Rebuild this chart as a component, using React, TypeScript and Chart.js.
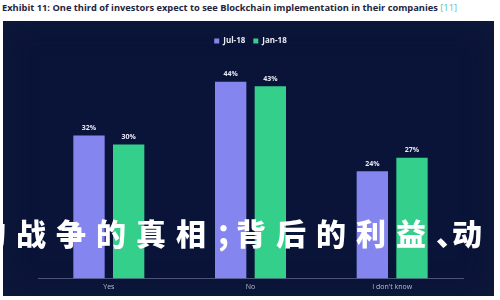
import React, { useEffect, useRef } from "react";
import { Chart, registerables } from "chart.js";

Chart.register(...registerables);

const categories = ["Yes", "No", "I don't know"];
const jul18 = [32, 44, 24];
const jan18 = [30, 43, 27];
const seriesNames = ["Jul-18", "Jan-18"];
const titleText = "Exhibit 11: One third of investors expect to see Blockchain implementation in their companies";
const titleRef = "[11]";
const overlayChars = ["的", "战", "争", "的", "真", "相", "；", "背", "后", "的", "利", "益", "、", "动"];

const valueLabels = {
  id: "valueLabels",
  afterDatasetsDraw(chart: any) {
    const ctx = chart.ctx;
    ctx.save();
    ctx.font = "bold 7px 'Open Sans', sans-serif";
    ctx.fillStyle = "#e8eaf5";
    ctx.textAlign = "center";
    ctx.textBaseline = "bottom";
    chart.data.datasets.forEach((ds: any, i: number) => {
      const meta = chart.getDatasetMeta(i);
      meta.data.forEach((bar: any, j: number) => {
        ctx.fillText(ds.data[j] + "%", bar.x, bar.y - 4);
      });
    });
    ctx.restore();
  },
};

export default function App() {
  const canvasRef = useRef<HTMLCanvasElement>(null);
  useEffect(() => {
    const chart = new Chart(canvasRef.current!, {
      type: "bar",
      data: {
        labels: categories,
        datasets: [
          { label: seriesNames[0], data: jul18, backgroundColor: "#8585ef", borderWidth: 0 },
          { label: seriesNames[1], data: jan18, backgroundColor: "#35cf8c", borderWidth: 0 },
        ],
      },
      options: {
        animation: false,
        responsive: false,
        maintainAspectRatio: false,
        layout: { padding: { left: 35, right: 31, top: 8, bottom: 1 } },
        plugins: {
          legend: {
            display: true,
            labels: {
              color: "#e8eaf5",
              font: { size: 8, weight: "bold", family: "'Open Sans', sans-serif" },
              boxWidth: 5,
              boxHeight: 5,
              padding: 8,
            },
          },
          tooltip: { enabled: false },
        },
        datasets: { bar: { categoryPercentage: 0.56, barPercentage: 0.79 } },
        scales: {
          x: {
            grid: { display: false, drawTicks: false, tickLength: 0 },
            border: { color: "#4a5578", width: 1 },
            ticks: { color: "#b8bdd0", font: { size: 7, family: "'Open Sans', sans-serif" }, padding: 4 },
          },
          y: { display: false, min: 0, max: 50 },
        },
      },
      plugins: [valueLabels],
    });
    return () => chart.destroy();
  }, []);

  return (
    <div style={{ position: "fixed", left: 0, top: 0, width: 500, height: 300, background: "#ffffff", overflow: "hidden" }}>
      <div
        style={{
          position: "absolute",
          left: 2,
          top: 1,
          fontFamily: "'Open Sans', sans-serif",
          fontWeight: 700,
          fontSize: 9.3,
          color: "#1d2540",
          whiteSpace: "nowrap",
        }}
      >
        {titleText} <span style={{ color: "#5cc4b8", fontWeight: 400 }}>{titleRef}</span>
      </div>
      <div
        style={{
          position: "absolute",
          left: 3,
          top: 21,
          width: 491,
          height: 275,
          background: "#0a1438",
          boxShadow: "inset 0 0 30px rgba(20,30,60,0.6)",
        }}
      >
        <canvas ref={canvasRef} width={491} height={275} style={{ display: "block", position: "absolute", left: 0, top: 0 }} />
      </div>
      <div
        style={{
          position: "absolute",
          left: -24,
          top: 212,
          fontFamily: "'Noto Sans CJK SC', sans-serif",
          fontWeight: 900,
          fontSize: 30,
          color: "#ffffff",
          whiteSpace: "nowrap",
          lineHeight: "40px",
        }}
      >
        {overlayChars.map((c, i) => {
          const punct = c === "；" || c === "、";
          return (
            <span key={i} style={{ letterSpacing: punct ? (c === "；" ? -10 : -14) : 10 }}>
              {c}
            </span>
          );
        })}
      </div>
    </div>
  );
}
